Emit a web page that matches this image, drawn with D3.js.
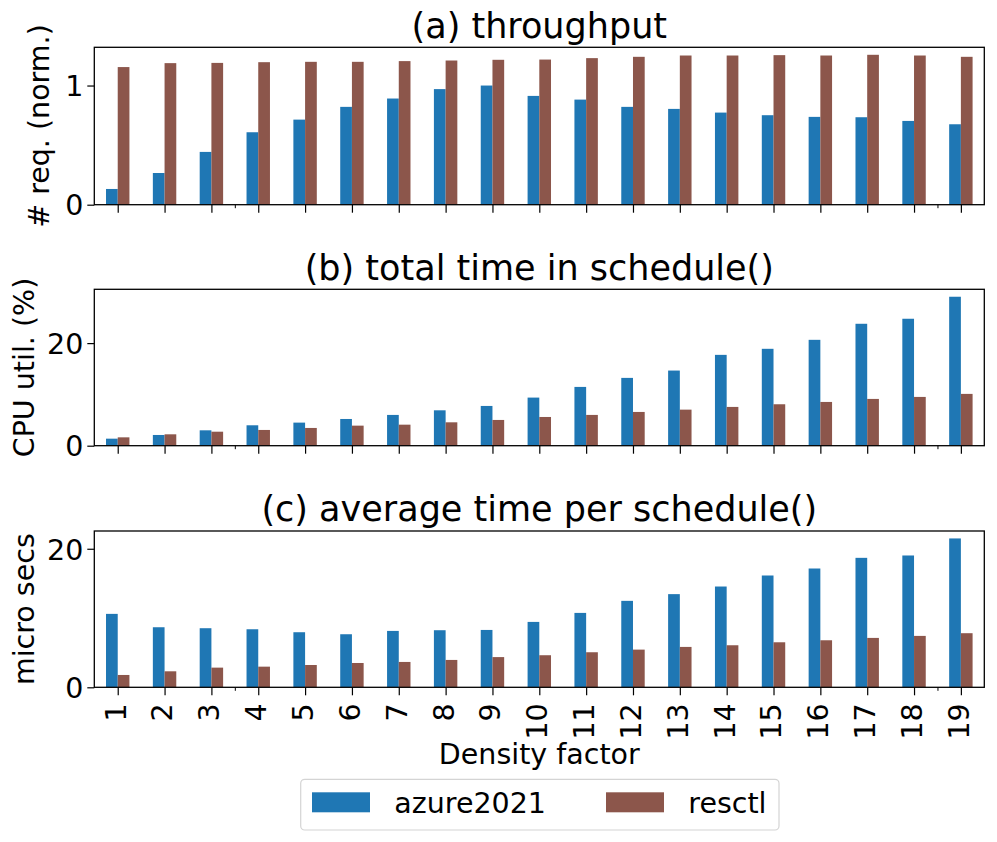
<!DOCTYPE html>
<html>
<head>
<meta charset="utf-8">
<script src="https://cdn.jsdelivr.net/npm/d3@7"></script>
<style>
  html, body { margin: 0; padding: 0; background: #fff; }
  svg { display: block; font-family: "DejaVu Sans", sans-serif; }
</style>
</head>
<body>
<svg id="chart" width="997" height="842"></svg>
<script>
// ---- data ----
const categories = ["1","2","3","4","5","6","7","8","9","10","11","12","13","14","15","16","17","18","19"];
const seriesNames = ["azure2021", "resctl"];
const colors = ["#1f77b4", "#8c564b"];

const throughputAzure = [0.132,0.266,0.443,0.608,0.714,0.821,0.891,0.970,1.000,0.913,0.882,0.821,0.804,0.773,0.751,0.737,0.734,0.703,0.675];
const throughputResctl = [1.155,1.188,1.190,1.196,1.199,1.199,1.205,1.210,1.216,1.218,1.230,1.241,1.252,1.252,1.255,1.252,1.258,1.252,1.241];

const cpuAzure = [1.37,2.09,3.00,3.98,4.50,5.21,6.00,6.90,7.75,9.38,11.46,13.22,14.65,17.71,18.89,20.64,23.77,24.75,29.04];
const cpuResctl = [1.63,2.22,2.73,3.07,3.46,3.91,4.10,4.56,5.02,5.60,6.00,6.58,7.03,7.56,8.08,8.53,9.12,9.51,10.10];

const avgAzure = [10.60,8.67,8.53,8.38,7.95,7.66,8.14,8.24,8.28,9.44,10.74,12.48,13.45,14.55,16.14,17.15,18.69,19.03,21.49];
const avgResctl = [1.78,2.31,2.84,2.98,3.22,3.51,3.66,3.95,4.36,4.63,5.06,5.44,5.83,6.07,6.50,6.79,7.13,7.42,7.81];

const yTicksA = [0, 1];
const yTicksB = [0, 20];
const yTicksC = [0, 20];
const minorXTicks = [2.5, 17.5];

const panels = [
  { title: "(a) throughput", ylabel: "# req. (norm.)", series: [throughputAzure, throughputResctl], ticks: yTicksA, top: 47.3, bottom: 204.7, labelX: 49 },
  { title: "(b) total time in schedule()", ylabel: "CPU util. (%)", series: [cpuAzure, cpuResctl], ticks: yTicksB, top: 289.3, bottom: 445.7, labelX: 34 },
  { title: "(c) average time per schedule()", ylabel: "micro secs", series: [avgAzure, avgResctl], ticks: yTicksC, top: 531, bottom: 687.3, labelX: 34 }
];

// ---- layout ----
const svg = d3.select("#chart");
const left = 94.3, right = 984.3;
const FS = 28.5, TFS = 35;

const x = d3.scaleLinear().domain([-0.5, categories.length - 0.5]).range([left, right]);
const barW = 0.25;

panels.forEach((p, pi) => {
  const g = svg.append("g");
  const allVals = p.series.flat();
  const y = d3.scaleLinear().domain([0, d3.max(allVals) * 1.05]).range([p.bottom, p.top]);

  p.series.forEach((vals, si) => {
    g.append("g").selectAll("rect").data(vals).join("rect")
      .attr("x", (d, i) => x(i + (si - 1) * barW))
      .attr("width", x(barW) - x(0))
      .attr("y", d => y(d))
      .attr("height", d => y(0) - y(d))
      .attr("fill", colors[si]);
  });

  g.append("rect")
    .attr("x", left).attr("y", p.top)
    .attr("width", right - left).attr("height", p.bottom - p.top)
    .attr("fill", "none").attr("stroke", "#000").attr("stroke-width", 1.3);

  const yAxis = d3.axisLeft(y).tickValues(p.ticks).tickSize(7).tickPadding(4).tickFormat(d3.format("d"));
  const ya = g.append("g").attr("transform", `translate(${left},0)`).call(yAxis);
  ya.select(".domain").remove();
  ya.selectAll("line").attr("stroke", "#000").attr("stroke-width", 1.2);
  ya.selectAll("text").attr("font-size", FS).attr("font-family", "DejaVu Sans").attr("fill", "#000").attr("dy", "0.36em");

  const xAxis = d3.axisBottom(x).tickValues(d3.range(categories.length)).tickSize(8).tickFormat(i => categories[i]);
  const xa = g.append("g").attr("transform", `translate(0,${p.bottom})`).call(xAxis);
  xa.select(".domain").remove();
  xa.selectAll("line").attr("stroke", "#000").attr("stroke-width", 1.2);
  if (pi === panels.length - 1) {
    xa.selectAll("text")
      .attr("font-size", FS).attr("font-family", "DejaVu Sans").attr("fill", "#000")
      .attr("transform", "translate(0,16) rotate(-90)")
      .attr("x", 0).attr("y", 0).attr("dy", "0.26em")
      .attr("text-anchor", "end");
  } else {
    xa.selectAll("text").remove();
  }

  // small minor marks
  const xm = d3.axisBottom(x).tickValues(minorXTicks).tickSize(3.5).tickFormat("");
  const xma = g.append("g").attr("transform", `translate(0,${p.bottom})`).call(xm);
  xma.select(".domain").remove();
  xma.selectAll("line").attr("stroke", "#000").attr("stroke-width", 1);

  svg.append("text")
    .attr("x", (left + right) / 2).attr("y", p.top - 9.6)
    .attr("text-anchor", "middle").attr("font-size", TFS).attr("fill", "#000")
    .text(p.title);

  svg.append("text")
    .attr("transform", `translate(${p.labelX},${(p.top + p.bottom) / 2}) rotate(-90)`)
    .attr("text-anchor", "middle").attr("font-size", FS).attr("fill", "#000")
    .text(p.ylabel);
});

svg.append("text")
  .attr("x", (left + right) / 2).attr("y", 764)
  .attr("text-anchor", "middle").attr("font-size", FS).attr("fill", "#000")
  .text("Density factor");

const lg = svg.append("g");
lg.append("rect")
  .attr("x", 300.7).attr("y", 779.3).attr("width", 478.3).attr("height", 50.7)
  .attr("rx", 4).attr("fill", "#fff").attr("fill-opacity", 0.8)
  .attr("stroke", "#d4d4d4").attr("stroke-width", 1.2);
const legendX = [312, 606];
seriesNames.forEach((name, i) => {
  lg.append("rect").attr("x", legendX[i]).attr("y", 792.3).attr("width", 58).attr("height", 20).attr("fill", colors[i]);
  lg.append("text").attr("x", legendX[i] + 82.3).attr("y", 812.7).attr("font-size", FS).attr("fill", "#000").text(name);
});
</script>
</body>
</html>
